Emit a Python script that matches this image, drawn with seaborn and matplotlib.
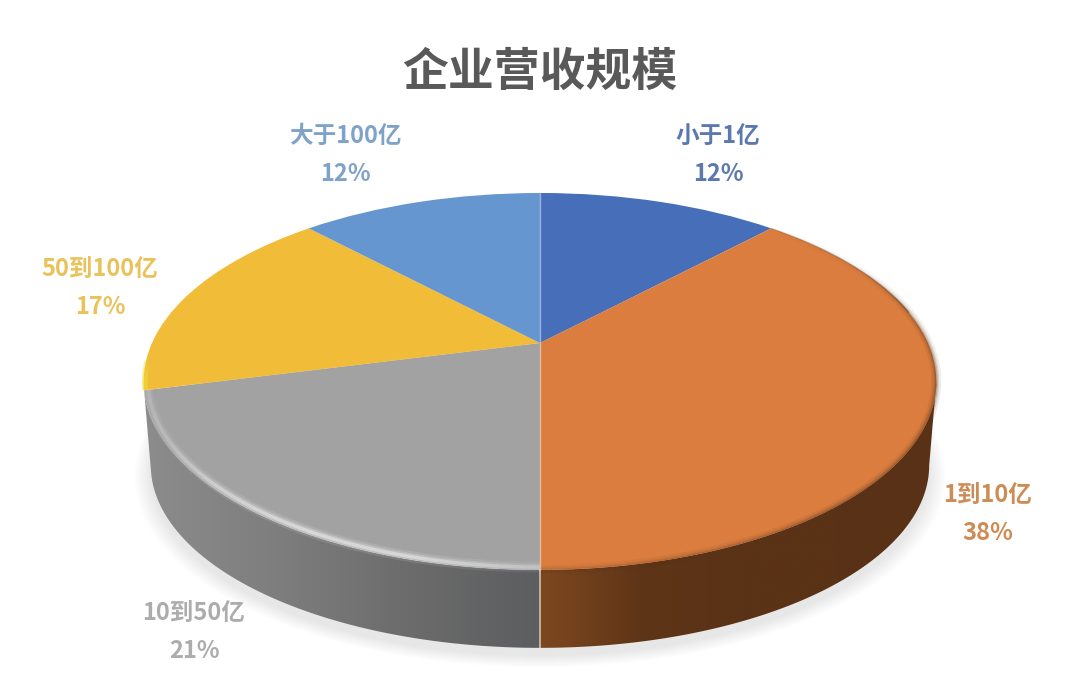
import numpy as np
import matplotlib
matplotlib.use("Agg")
import matplotlib.pyplot as plt
import matplotlib.patches as mpatches
from matplotlib.collections import LineCollection
from matplotlib.path import Path
from matplotlib.transforms import Affine2D, Transform
import seaborn as sns

# data
categories = ["小于1亿", "1到10亿", "10到50亿", "50到100亿", "大于100亿"]
shares = [12, 38, 21, 17, 12]
slice_hex = ["#466EB9", "#DA7D3F", "#A2A2A2", "#F1BC37", "#6696D0"]
label_hex = ["#5B78AF", "#CE8C55", "#ACACAC", "#E9C25A", "#7FA2C8"]

# layout, in picture pixels
label_centres = [(718, 136), (988, 495), (194, 613), (100, 269), (345, 136)]
label_gap = 38

sns.set_theme(style="white")
plt.rcParams["font.family"] = ["Noto Sans CJK SC", "DejaVu Sans"]


class Perspective(Transform):
    """tilts the flat unit-circle pie into picture pixels"""
    input_dims = 2
    output_dims = 2

    def __init__(self, width, cy, height, cx=540, tilt=0.204):
        super().__init__()
        self.width, self.cy, self.height, self.cx, self.tilt = width, cy, height, cx, tilt

    def transform_non_affine(self, values):
        values = np.asarray(values, dtype=float)
        w = 1 + self.tilt * values[:, 1]
        return np.column_stack([self.cx + self.width * values[:, 0] / w,
                                self.cy - self.height * values[:, 1] / w])

    def transform_path_non_affine(self, path):
        # flatten the curves first, at high resolution as the circle is only 1 unit wide
        flat = path.transformed(Affine2D().scale(2000)).cleaned(curves=True)
        flat = flat.transformed(Affine2D().scale(1 / 2000))
        return Path(self.transform_non_affine(flat.vertices), flat.codes)


top_rim = Perspective(388, 343, 180.6)
bottom_rim = Perspective(381, 428, 175)
shadow_rim = Perspective(381, 436, 175)


def rim_points(persp, degrees, radius=1.0):
    rad = np.radians(degrees)
    return persp.transform(np.column_stack([radius * np.cos(rad), radius * np.sin(rad)]))


def rim_band(ax, t1, t2, strength, color, widths, radius=0.985, zorder=4):
    """soft line along the top rim, strength runs from t1 to t2"""
    t = np.linspace(t1, t2, 200)
    pts = rim_points(top_rim, t, radius)
    segs = np.stack([pts[:-1], pts[1:]], axis=1)
    pos = np.linspace(0, 1, len(segs))
    alpha = np.interp(pos, np.linspace(0, 1, len(strength)), strength)
    rgb = matplotlib.colors.to_rgb(color)
    for lw, a in widths:
        cols = [(*rgb, min(1, v * a)) for v in alpha]
        ax.add_collection(LineCollection(segs, colors=cols, linewidths=lw, capstyle="butt", zorder=zorder))


fig = plt.figure(figsize=(10.8, 6.93), dpi=100)
ax = fig.add_axes([0, 0, 1, 1])

palette = sns.color_palette(slice_hex)
wedges, _ = ax.pie(shares, colors=palette, startangle=90, counterclock=False, radius=1)
for w in wedges:
    w.set_transform(top_rim + ax.transData)
    w.set_zorder(3)
    w.set_linewidth(0)

# soft shadow under the pie
for r in np.linspace(1.04, 1.0, 12):
    ax.add_patch(mpatches.Circle((0, 0), r, color="#9aa2ac", alpha=0.02, lw=0,
                                 transform=shadow_rim + ax.transData, zorder=0))

# side wall, only the two front slices show it
wall_ramps = {1: ["#7D4820", "#5F3517", "#5A3216", "#5A3216", "#593116"],
              2: ["#8C8C8C", "#7E7E7E", "#6C6C6C", "#5C5D5F"]}
for idx, ramp in wall_ramps.items():
    w = wedges[idx]
    t1 = max(w.theta1, -169)
    t2 = min(w.theta2, -11.8)
    t = np.linspace(t1, t2, 240)
    outline = np.vstack([rim_points(top_rim, t), rim_points(bottom_rim, t)[::-1]])
    x0, x1 = outline[:, 0].min(), outline[:, 0].max()
    y0, y1 = outline[:, 1].min(), outline[:, 1].max()
    cmap = sns.blend_palette(ramp, as_cmap=True)
    im = ax.imshow(np.linspace(0, 1, 256)[None, :], cmap=cmap, aspect="auto",
                   extent=(x0, x1, y1, y0), zorder=1, interpolation="bilinear")
    clip = mpatches.Polygon(outline, closed=True, transform=ax.transData)
    im.set_clip_path(clip)

# bevel along the front rim
g = wedges[2]
o = wedges[1]
y = wedges[3]
rim_band(ax, g.theta1, g.theta2, [0.3, 0.4, 0.8, 1.0, 0.95, 0.5], "white",
         [(8, 0.12), (5, 0.22), (2.5, 0.42)], radius=0.99)
rim_band(ax, o.theta1, o.theta2, [0.4, 0.65, 0.9, 1.0, 1.0, 0.7, 0.15, 0.0], "#5A3216",
         [(7, 0.10), (4, 0.16), (2, 0.25)], radius=1.0)
rim_band(ax, 10, o.theta2, [0.8, 0.5, 0.3], "#5A3216", [(1.0, 0.7)], radius=1.0)
rim_band(ax, y.theta2 - 9, y.theta2, [0.2, 0.8, 1], "#F2DE3A", [(4, 0.9)], radius=0.997, zorder=5)

# pale seam down the middle of the pie and the wall
seam = rim_points(top_rim, np.array([90, -90]))
seam_low = rim_points(bottom_rim, np.array([-90]))
ax.plot(seam[:, 0], seam[:, 1], color="white", lw=1, alpha=0.45, zorder=5)
ax.plot([seam[1, 0], seam_low[0, 0]], [seam[1, 1], seam_low[0, 1]], color="#F2E8E0", lw=1.1, alpha=0.8, zorder=5)

ax.text(540, 73, "企业营收规模", fontsize=33, fontweight="bold", color="#595959",
        ha="center", va="center", zorder=6)
for name, share, col, (lx, ly) in zip(categories, shares, label_hex, label_centres):
    ax.text(lx, ly, name, fontsize=17, fontweight="bold", color=col, ha="center", va="center", zorder=6)
    ax.text(lx, ly + label_gap, f"{share}%", fontsize=17, fontweight="bold", color=col,
            ha="center", va="center", zorder=6)

ax.set_aspect("auto")
ax.set_xlim(0, 1080)
ax.set_ylim(693, 0)
ax.axis("off")

fig.savefig("out.png", dpi=100, facecolor="white")
